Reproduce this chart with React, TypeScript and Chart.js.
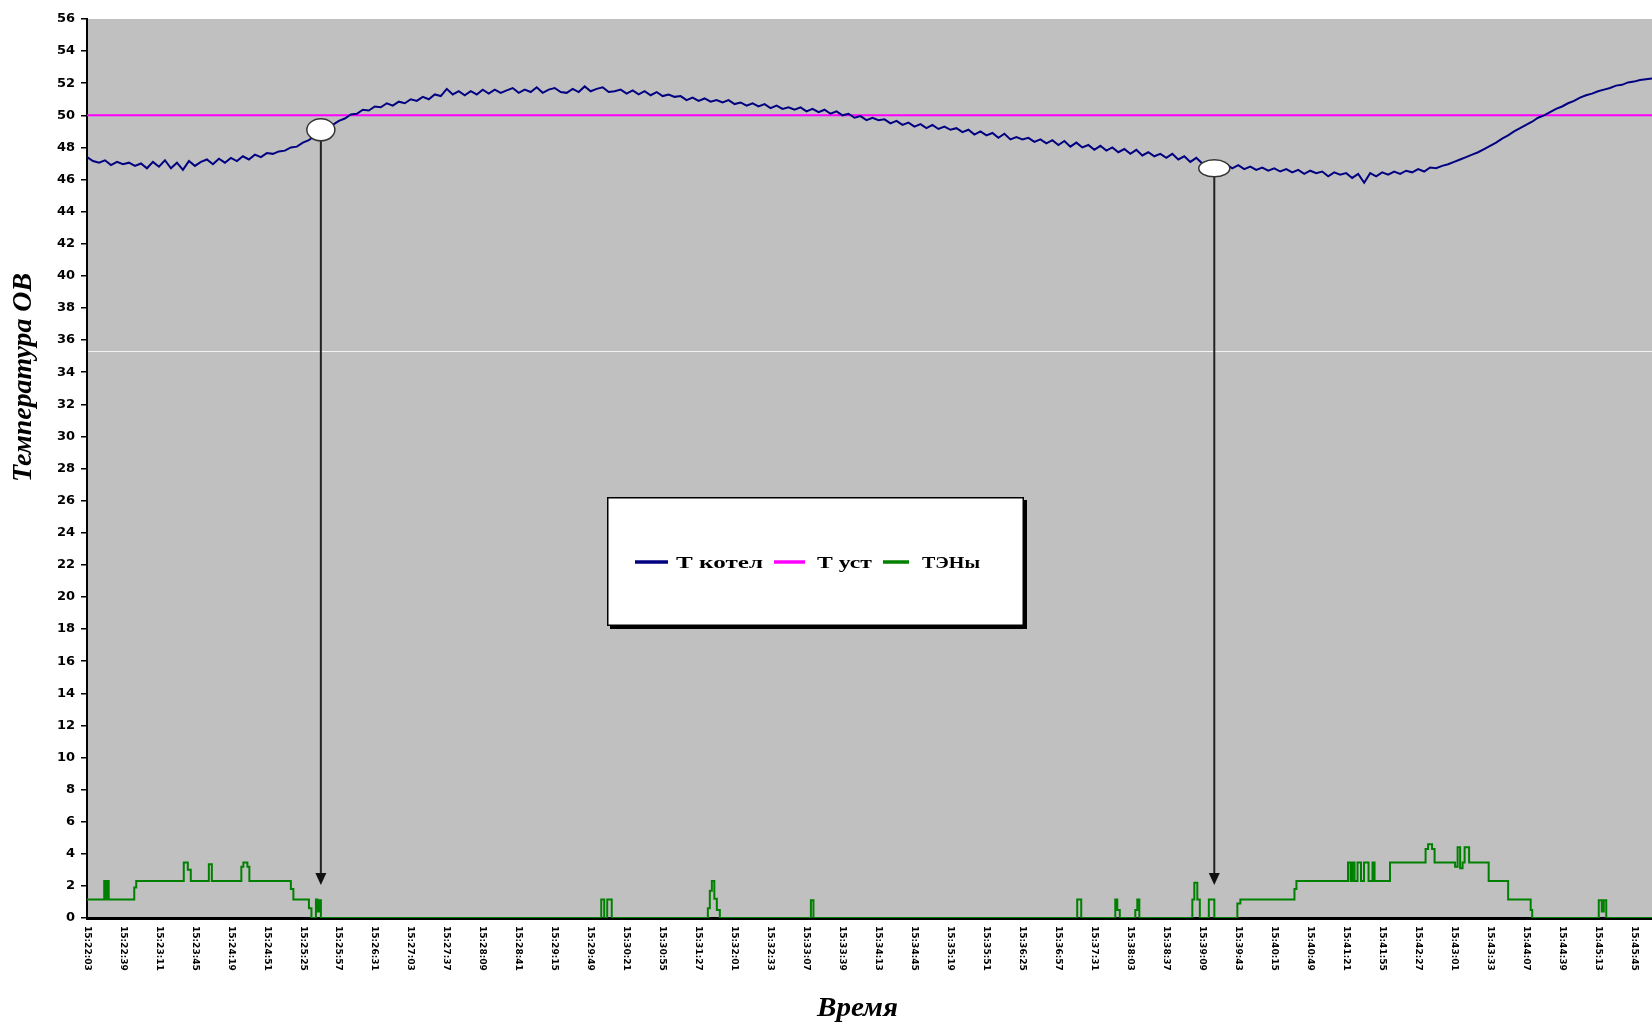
import React, { useEffect, useRef } from "react";
import { Chart, registerables } from "chart.js";

Chart.register(...registerables);

// ---------------- data ----------------
const TIME_LABELS = [
  "15:22:03", "15:22:39", "15:23:11", "15:23:45", "15:24:19", "15:24:51", "15:25:25", "15:25:57",
  "15:26:31", "15:27:03", "15:27:37", "15:28:09", "15:28:41", "15:29:15", "15:29:49", "15:30:21",
  "15:30:55", "15:31:27", "15:32:01", "15:32:33", "15:33:07", "15:33:39", "15:34:13", "15:34:45",
  "15:35:19", "15:35:51", "15:36:25", "15:36:57", "15:37:31", "15:38:03", "15:38:37", "15:39:09",
  "15:39:43", "15:40:15", "15:40:49", "15:41:21", "15:41:55", "15:42:27", "15:43:01", "15:43:33",
  "15:44:07", "15:44:39", "15:45:13", "15:45:45",
];
const SAMPLES_PER_LABEL = 6;
const X_MAX = 261;

const T_KOTEL = [
  47.4, 47.15, 47.05, 47.2, 46.9, 47.1, 46.95, 47.05, 46.85, 47.0,
  46.7, 47.1, 46.8, 47.2, 46.7, 47.05, 46.6, 47.15, 46.85, 47.1,
  47.25, 46.95, 47.3, 47.05, 47.35, 47.15, 47.45, 47.25, 47.55, 47.4,
  47.65, 47.6, 47.75, 47.8, 48.0, 48.05, 48.3, 48.45, 48.75, 48.95,
  49.25, 49.4, 49.65, 49.8, 50.05, 50.1, 50.35, 50.3, 50.55, 50.5,
  50.75, 50.6, 50.85, 50.75, 51.0, 50.9, 51.15, 51.0, 51.3, 51.2,
  51.65, 51.3, 51.5, 51.25, 51.5, 51.3, 51.6, 51.35, 51.6, 51.4,
  51.55, 51.7, 51.4, 51.6, 51.45, 51.75, 51.4, 51.6, 51.7, 51.45,
  51.4, 51.65, 51.45, 51.8, 51.5, 51.65, 51.75, 51.45, 51.5, 51.6,
  51.35, 51.55, 51.3, 51.5, 51.25, 51.45, 51.2, 51.3, 51.15, 51.2,
  50.95, 51.1, 50.9, 51.05, 50.85, 50.95, 50.8, 50.95, 50.7, 50.8,
  50.6, 50.75, 50.55, 50.7, 50.45, 50.6, 50.4, 50.5, 50.35, 50.5,
  50.25, 50.4, 50.2, 50.35, 50.1, 50.25, 50.0, 50.1, 49.85, 49.95,
  49.7, 49.85, 49.7, 49.75, 49.5, 49.65, 49.4, 49.55, 49.3, 49.45,
  49.2, 49.4, 49.15, 49.3, 49.1, 49.2, 48.95, 49.1, 48.8, 49.0,
  48.75, 48.9, 48.6, 48.85, 48.5, 48.65, 48.5, 48.6, 48.35, 48.5,
  48.25, 48.45, 48.15, 48.4, 48.05, 48.3, 48.0, 48.15, 47.85, 48.1,
  47.8, 48.0, 47.7, 47.9, 47.6, 47.85, 47.5, 47.7, 47.45, 47.6,
  47.35, 47.6, 47.25, 47.45, 47.1, 47.35, 47.0, 47.15, 46.85, 47.0,
  46.95, 46.7, 46.9, 46.65, 46.8, 46.6, 46.75, 46.55, 46.7, 46.5,
  46.65, 46.45, 46.6, 46.35, 46.55, 46.4, 46.5, 46.2, 46.45, 46.3,
  46.4, 46.1, 46.35, 45.8, 46.4, 46.2, 46.45, 46.3, 46.5, 46.35,
  46.55, 46.45, 46.65, 46.5, 46.75, 46.7, 46.85, 46.95, 47.1, 47.25,
  47.4, 47.55, 47.7, 47.9, 48.1, 48.3, 48.55, 48.75, 49.0, 49.2,
  49.4, 49.6, 49.85, 50.0, 50.2, 50.4, 50.55, 50.75, 50.9, 51.1,
  51.25, 51.35, 51.5, 51.6, 51.7, 51.85, 51.9, 52.05, 52.1, 52.2,
  52.25, 52.3,
];

const T_UST = 50;

const TEN_X = [
  0, 2.87, 3.12, 3.37, 3.62, 7.88, 8.21, 16.14, 16.81, 17.31, 20.32, 20.82, 25.74, 26.08, 26.75, 27.08,
  34.0, 34.42, 37.01, 37.43, 38.18, 38.43, 38.68, 39.01, 85.76, 86.26, 86.76, 87.51,
  103.54, 103.87, 104.21, 104.62, 105.04, 105.54, 120.73, 121.15, 165.14, 165.81,
  171.49, 171.82, 172.24, 174.83, 175.16, 175.5, 184.34, 184.67, 185.17, 185.59, 187.09, 188.01,
  191.85, 192.35, 201.37, 201.7, 210.3, 210.72, 211.05, 211.39, 211.89, 212.47, 212.97, 213.73,
  214.39, 214.73, 217.31, 223.24, 223.66, 224.32, 224.74, 228.16, 228.58, 229.0, 229.41, 229.75,
  230.5, 233.76, 237.01, 240.77, 241.02, 252.12, 252.62, 252.96, 253.37, 261,
];
const TEN_Y = [
  1.15, 2.3, 1.15, 2.3, 1.15, 1.9, 2.3, 3.45, 3.0, 2.3, 3.35, 2.3, 3.2, 3.45, 3.2, 2.3,
  1.8, 1.15, 0.6, 0, 1.15, 0.4, 1.1, 0, 1.15, 0, 1.15, 0,
  0.6, 1.7, 2.3, 1.2, 0.5, 0, 1.1, 0, 1.15, 0,
  1.15, 0.5, 0, 0.5, 1.15, 0, 1.15, 2.2, 1.15, 0, 1.15, 0,
  0.9, 1.15, 1.8, 2.3, 3.45, 2.3, 3.45, 2.3, 3.45, 2.3, 3.45, 2.3,
  3.45, 2.3, 3.45, 4.3, 4.6, 4.3, 3.45, 3.2, 4.4, 3.1, 3.45, 4.4,
  3.45, 2.3, 1.15, 0.5, 0, 1.1, 0.4, 1.1, 0, 0,
];

const MARKER_X = [39, 188];
const MARKER_Y = [49.1, 46.7];
const ARROW_TIP_Y = 2.06;
const SCAN_LINE_Y = 35.34;

const Y_MIN = 0;
const Y_MAX = 56;
const Y_STEP = 2;

const SERIES_NAMES = ["Т котел", "Т уст", "ТЭНы"];
const SERIES_COLORS = ["#000080", "#FF00FF", "#008000"];
const Y_TITLE = "Температура ОВ";
const X_TITLE = "Время";

// ---------------- drawing helpers ----------------
function fitText(ctx: CanvasRenderingContext2D, text: string, x: number, y: number, width: number) {
  const w = ctx.measureText(text).width;
  ctx.save();
  ctx.translate(x, y);
  ctx.scale(width / w, 1);
  ctx.fillText(text, 0, 0);
  ctx.restore();
}

const decorPlugin = {
  id: "decor",
  beforeDraw(chart: any) {
    const { ctx, chartArea: a } = chart;
    ctx.save();
    ctx.fillStyle = "#ffffff";
    ctx.fillRect(0, 0, chart.width, chart.height);
    ctx.fillStyle = "#C0C0C0";
    ctx.fillRect(a.left, a.top, a.right - a.left, a.bottom - a.top);
    const ys = chart.scales.y;
    const sy = Math.round(ys.getPixelForValue(SCAN_LINE_Y)) + 0.5;
    ctx.strokeStyle = "rgba(255,255,255,0.8)";
    ctx.lineWidth = 1;
    ctx.beginPath();
    ctx.moveTo(a.left, sy);
    ctx.lineTo(a.right, sy);
    ctx.stroke();
    ctx.restore();
  },
  afterDatasetsDraw(chart: any) {
    const { ctx } = chart;
    const xs = chart.scales.x;
    const ys = chart.scales.y;
    ctx.save();
    MARKER_X.forEach((mx, k) => {
      const px = xs.getPixelForValue(mx);
      const py = ys.getPixelForValue(MARKER_Y[k]);
      const tip = ys.getPixelForValue(ARROW_TIP_Y);
      const rx = k === 0 ? 14 : 15.5;
      const ry = k === 0 ? 11 : 8.5;
      ctx.strokeStyle = "#222";
      ctx.lineWidth = 2;
      ctx.beginPath();
      ctx.moveTo(px, py);
      ctx.lineTo(px, tip - 10);
      ctx.stroke();
      ctx.fillStyle = "#111";
      ctx.beginPath();
      ctx.moveTo(px - 5.5, tip - 12);
      ctx.lineTo(px + 5.5, tip - 12);
      ctx.lineTo(px, tip);
      ctx.closePath();
      ctx.fill();
      ctx.fillStyle = "#ffffff";
      ctx.strokeStyle = "#333";
      ctx.lineWidth = 1.5;
      ctx.beginPath();
      ctx.ellipse(px, py, rx, ry, 0, 0, Math.PI * 2);
      ctx.fill();
      ctx.stroke();
    });
    ctx.restore();
  },
  afterDraw(chart: any) {
    const { ctx, chartArea: a } = chart;
    const xs = chart.scales.x;
    ctx.save();
    ctx.fillStyle = "#000";
    ctx.font = "bold 9px 'DejaVu Sans'";
    ctx.textAlign = "left";
    ctx.textBaseline = "middle";
    TIME_LABELS.forEach((t, j) => {
      const px = xs.getPixelForValue(j * SAMPLES_PER_LABEL);
      ctx.save();
      ctx.translate(px, a.bottom + 8);
      ctx.rotate(Math.PI / 2);
      ctx.fillText(t, 0, 0);
      ctx.restore();
    });

    ctx.font = "italic bold 27px 'Liberation Serif'";
    ctx.textAlign = "left";
    ctx.textBaseline = "alphabetic";
    ctx.save();
    ctx.translate(31, 482);
    ctx.rotate(-Math.PI / 2);
    fitText(ctx, Y_TITLE, 0, 0, 209);
    ctx.restore();
    ctx.font = "italic bold 28px 'Liberation Serif'";
    fitText(ctx, X_TITLE, 817, 1016, 81);

    const bx = 607, by = 497, bw = 417, bh = 129;
    ctx.fillStyle = "#000";
    ctx.fillRect(bx + 3, by + 3, bw, bh);
    ctx.fillStyle = "#fff";
    ctx.fillRect(bx, by, bw, bh);
    ctx.strokeStyle = "#000";
    ctx.lineWidth = 1.5;
    ctx.strokeRect(bx + 0.75, by + 0.75, bw - 1.5, bh - 1.5);

    const lineX = [635, 774, 883];
    const lineW = [33, 31, 26];
    const textX = [676, 817, 922];
    const textW = [87, 55, 58];
    const cy = 562;
    ctx.font = "bold 17px 'Liberation Serif'";
    ctx.textBaseline = "alphabetic";
    SERIES_NAMES.forEach((name, k) => {
      ctx.strokeStyle = SERIES_COLORS[k];
      ctx.lineWidth = 3.5;
      ctx.beginPath();
      ctx.moveTo(lineX[k], cy);
      ctx.lineTo(lineX[k] + lineW[k], cy);
      ctx.stroke();
      ctx.fillStyle = "#000";
      fitText(ctx, name, textX[k], cy + 6, textW[k]);
    });
    ctx.restore();
  },
};

export default function App() {
  const ref = useRef<HTMLCanvasElement>(null);

  useEffect(() => {
    if (!ref.current) return;
    const chart = new Chart(ref.current, {
      type: "line",
      data: {
        datasets: [
          {
            label: SERIES_NAMES[2],
            data: TEN_X.map((x, i) => ({ x, y: TEN_Y[i] })),
            borderColor: SERIES_COLORS[2],
            borderWidth: 2,
            stepped: true,
            pointRadius: 0,
            fill: false,
            order: 3,
          },
          {
            label: SERIES_NAMES[1],
            data: [
              { x: 0, y: T_UST },
              { x: X_MAX, y: T_UST },
            ],
            borderColor: SERIES_COLORS[1],
            borderWidth: 2,
            pointRadius: 0,
            fill: false,
            order: 2,
          },
          {
            label: SERIES_NAMES[0],
            data: T_KOTEL.map((y, i) => ({ x: i, y })),
            borderColor: SERIES_COLORS[0],
            borderWidth: 2,
            pointRadius: 0,
            tension: 0,
            fill: false,
            order: 1,
          },
        ],
      },
      options: {
        animation: false,
        responsive: false,
        devicePixelRatio: 1,
        layout: { padding: { top: 19, left: 0, right: 0, bottom: 0 } },
        plugins: { legend: { display: false }, tooltip: { enabled: false } },
        events: [],
        scales: {
          x: {
            type: "linear",
            min: 0,
            max: X_MAX,
            z: 1,
            ticks: { display: false },
            grid: { display: false },
            border: { display: true, color: "#000", width: 3 },
            afterFit: (s: any) => {
              s.height = 106;
            },
          },
          y: {
            min: Y_MIN,
            max: Y_MAX,
            z: 1,
            ticks: {
              stepSize: Y_STEP,
              padding: 6,
              color: "#000",
              font: { family: "DejaVu Sans", size: 13, weight: "bold" },
            },
            grid: {
              display: true,
              drawOnChartArea: false,
              drawTicks: true,
              tickLength: 6,
              color: "#000",
              lineWidth: 1.5,
            },
            border: { display: true, color: "#000", width: 2 },
            afterFit: (s: any) => {
              s.width = 87;
            },
          },
        },
      },
      plugins: [decorPlugin],
    } as any);
    return () => chart.destroy();
  }, []);

  return (
    <div style={{ position: "fixed", left: 0, top: 0, width: 1652, height: 1024, background: "#fff" }}>
      <canvas ref={ref} width={1652} height={1024} style={{ display: "block" }} />
    </div>
  );
}
